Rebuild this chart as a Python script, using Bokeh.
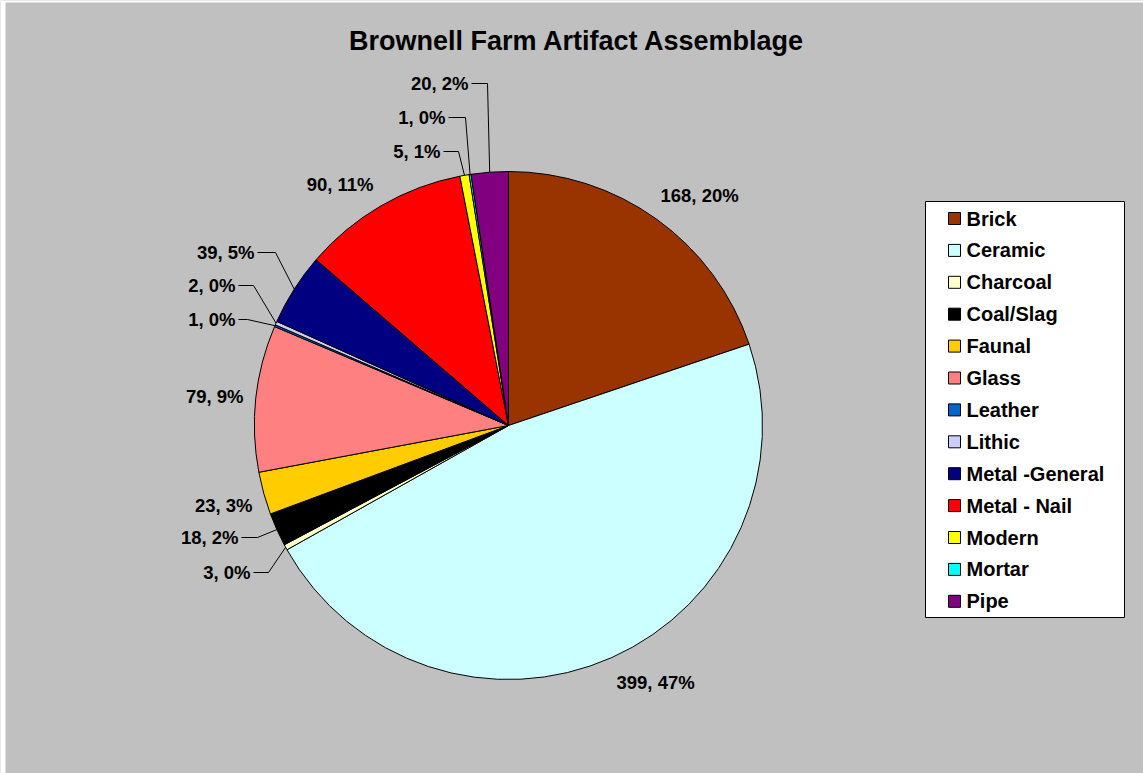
import math
from bokeh.plotting import figure
from bokeh.models import Range1d, ColumnDataSource
from bokeh.core.properties import value
from bokeh.embed import file_html
from bokeh.resources import INLINE

# ---------------- data ----------------
title_text = "Brownell Farm Artifact Assemblage"
categories = ["Brick", "Ceramic", "Charcoal", "Coal/Slag", "Faunal", "Glass", "Leather",
              "Lithic", "Metal -General", "Metal - Nail", "Modern", "Mortar", "Pipe"]
counts = [168, 399, 3, 18, 23, 79, 1, 2, 39, 90, 5, 1, 20]

# ---------------- styles ----------------
colors = ["#993300", "#CCFFFF", "#FFFFCC", "#000000", "#FFCC00", "#FF8080", "#0066CC",
          "#CCCCFF", "#000080", "#FF0000", "#FFFF00", "#00FFFF", "#800080"]
W, H = 1143, 773
CX, CY, R = 508, 425, 254          # pie centre / radius in page pixels
FONT = value("Liberation Sans")
# label anchor (page px x, y), alignment, leader elbow x (None = no leader)
label_layout = [
    (660, 195, "left", None),
    (616, 682, "left", None),
    (250, 572, "right", 268),
    (238, 537, "right", 257),
    (252, 505, "right", None),
    (243, 396, "right", None),
    (235, 319, "right", 247),
    (235, 285, "right", 253),
    (254, 252, "right", 275),
    (373, 184, "right", None),
    (440, 151, "right", 458),
    (445, 117, "right", 465),
    (468, 83, "right", 487),
]
LEG_L, LEG_R, LEG_T, LEG_B = 925, 1124, 201, 617
LEG_Y0, LEG_DY = 218, 31.9


def Y(py):
    return H - py


p = figure(width=W, height=H, x_range=Range1d(0, W), y_range=Range1d(0, H),
           output_backend="svg", toolbar_location=None, min_border=0)
p.axis.visible = False
p.grid.visible = False
p.outline_line_color = None
p.background_fill_color = "#C0C0C0"
p.border_fill_color = "#C0C0C0"

# thin light frame at left/top edge
p.quad(left=[0, 0], right=[5, W], top=[H, H], bottom=[0, H - 2],
       fill_color="white", line_color=None)

# title
p.text(x=[W / 2 + 5], y=[Y(40)], text=[title_text], text_font=FONT,
       text_font_size="27px", text_font_style="bold", text_align="center",
       text_baseline="middle", text_color="black")

# pie
total = float(sum(counts))
cum = [0]
for c in counts:
    cum.append(cum[-1] + c)
start = [math.pi / 2 - 2 * math.pi * cum[i + 1] / total for i in range(len(counts))]
end = [math.pi / 2 - 2 * math.pi * cum[i] / total for i in range(len(counts))]
src = ColumnDataSource(dict(cat=categories, count=counts, color=colors, start=start, end=end))
p.wedge(x=CX, y=Y(CY), radius=R, start_angle="start", end_angle="end",
        fill_color="color", line_color="black", line_width=1, source=src)

# data labels
lab_x, lab_y, lab_t, lab_a = [], [], [], []
lead_xs, lead_ys = [], []
for i, (cnt, lay) in enumerate(zip(counts, label_layout)):
    pct = round(100 * cnt / total)
    lx, ly, al, elbow = lay
    lab_x.append(lx)
    lab_y.append(Y(ly))
    lab_t.append(f"{cnt}, {pct}%")
    lab_a.append(al)
    if elbow is not None:
        mid = 2 * math.pi * (cum[i] + cum[i + 1]) / 2 / total
        ex = CX + R * math.sin(mid)
        ey = CY - R * math.cos(mid)
        lead_xs.append([lx + 3, elbow, ex])
        lead_ys.append([Y(ly), Y(ly), Y(ey)])

p.multi_line(xs=lead_xs, ys=lead_ys, line_color="black", line_width=1)
lsrc = ColumnDataSource(dict(x=lab_x, y=lab_y, t=lab_t, a=lab_a))
p.text(x="x", y="y", text="t", text_align="a", source=lsrc, text_font=FONT,
       text_font_size="18.5px", text_font_style="bold", text_baseline="middle",
       text_color="black")

# legend
p.quad(left=[LEG_L], right=[LEG_R], top=[Y(LEG_T)], bottom=[Y(LEG_B)],
       fill_color="white", line_color="black", line_width=1)
leg_y = [Y(LEG_Y0 + LEG_DY * i) for i in range(len(categories))]
p.rect(x=[954] * len(categories), y=leg_y, width=12, height=12,
       fill_color=colors, line_color="black", line_width=1)
p.text(x=[966] * len(categories), y=leg_y, text=categories, text_font=FONT,
       text_font_size="20px", text_font_style="bold", text_baseline="middle",
       text_align="left", text_color="black")

open("out.html", "w").write(file_html(p, INLINE))
